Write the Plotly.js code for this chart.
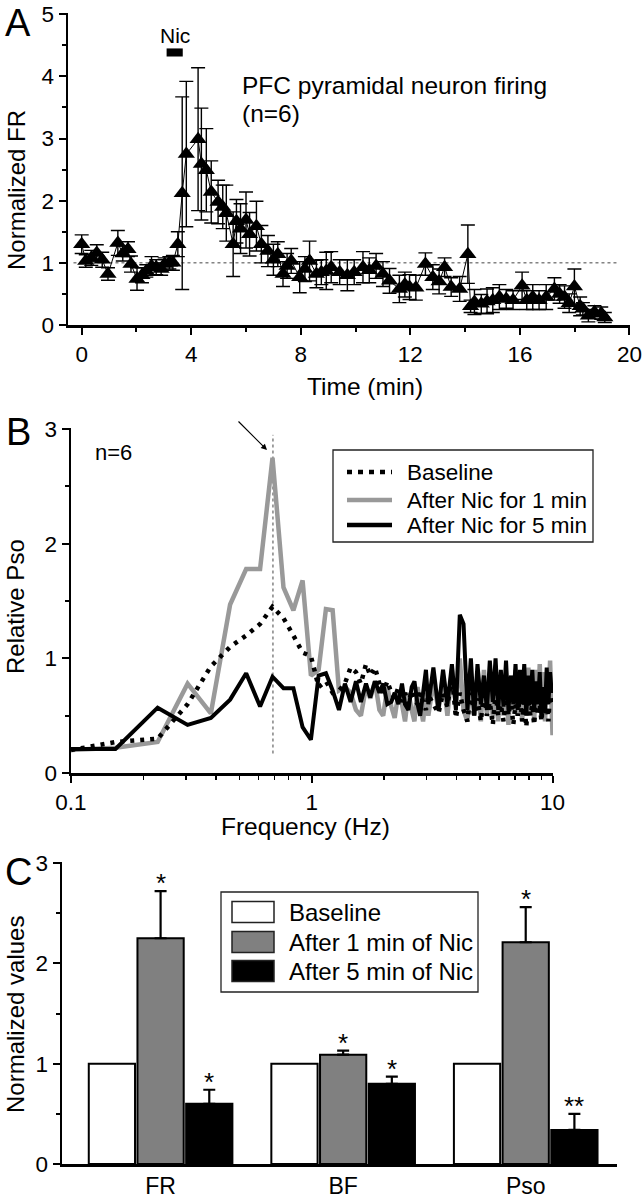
<!DOCTYPE html>
<html><head><meta charset="utf-8">
<script src="https://cdn.plot.ly/plotly-3.0.1.min.js"></script>
<style>html,body{margin:0;padding:0;background:#fff}#chart{width:644px;height:1200px}</style>
</head><body><div id="chart"></div>
<script>
// ---------- Panel A: normalized firing rate over time ----------
const timeMin = [0.0,0.15,0.35,0.55,0.75,0.96,1.32,1.5,1.69,1.8,
  2.02,2.2,2.36,2.55,2.72,2.9,3.03,3.2,3.33,3.51,
  3.67,3.82,4.25,4.37,4.55,4.73,4.98,5.15,5.28,5.53,
  5.65,5.8,6.0,6.13,6.38,6.56,6.8,7.0,7.16,7.35,
  7.5,7.65,7.96,8.15,8.32,8.57,8.75,8.93,9.11,9.42,
  9.7,9.95,10.27,10.5,10.75,11.0,11.24,11.6,11.8,11.97,
  12.2,12.55,12.82,13.05,13.25,13.49,13.8,14.1,14.2,14.34,
  14.59,14.8,15.01,15.25,15.5,15.75,16.08,16.25,16.47,16.7,
  16.96,17.26,17.45,17.63,17.8,17.99,18.2,18.3,18.5,18.72,
  18.97,19.1];
const normFR = [1.30,1.03,1.08,1.16,1.05,0.82,1.32,1.15,1.22,0.98,
  0.74,0.80,0.87,0.95,0.93,0.90,0.98,1.00,1.00,1.30,
  2.12,2.75,2.99,2.59,2.49,2.14,1.98,1.90,1.80,1.30,
  1.67,1.55,1.69,1.46,1.59,1.30,1.19,1.05,1.14,0.82,
  0.95,1.03,0.77,0.90,1.03,0.82,0.85,0.87,0.93,0.85,
  0.80,0.85,0.93,0.88,0.95,0.82,0.71,0.58,0.65,0.61,
  0.60,0.98,0.77,0.70,0.93,0.61,0.58,1.14,0.30,0.37,
  0.34,0.38,0.40,0.45,0.42,0.40,0.63,0.40,0.45,0.40,
  0.45,0.58,0.50,0.45,0.35,0.62,0.30,0.26,0.15,0.21,
  0.19,0.12];
const normFRErr = [0.15,0.10,0.12,0.13,0.12,0.10,0.20,0.12,0.12,0.13,
  0.18,0.12,0.10,0.15,0.12,0.10,0.10,0.10,0.12,0.20,
  1.55,1.17,1.15,0.90,0.67,0.50,0.35,0.35,0.45,0.52,
  0.35,0.40,0.45,0.35,0.40,0.30,0.25,0.25,0.20,0.20,
  0.20,0.20,0.25,0.20,0.32,0.22,0.20,0.30,0.25,0.20,
  0.25,0.20,0.25,0.20,0.20,0.20,0.20,0.22,0.20,0.20,
  0.20,0.18,0.20,0.20,0.15,0.15,0.20,0.47,0.10,0.20,
  0.15,0.20,0.20,0.20,0.15,0.15,0.22,0.15,0.20,0.15,
  0.20,0.18,0.15,0.18,0.15,0.28,0.15,0.10,0.10,0.10,
  0.10,0.08];
const nicStartMin = 3.1, nicEndMin = 3.69;

// ---------- Panel B: relative power spectrum ----------
const freqHz = [0.1,0.153,0.229,0.305,0.381,0.458,0.534,0.610,0.687,0.763,
  0.839,0.916,0.992,1.068,1.145,1.221,1.297,1.373,1.45,1.526,
  1.60,1.68,1.75,1.83,1.91,1.98,2.06,2.14,2.21,2.29,
  2.37,2.44,2.52,2.60,2.67,2.75,2.82,2.90,2.98,3.05,
  3.20,3.36,3.51,3.66,3.82,3.97,4.12,4.27,4.43,4.58,
  4.73,4.88,5.04,5.19,5.34,5.49,5.65,5.80,5.95,6.10,
  6.26,6.41,6.56,6.72,6.87,7.02,7.17,7.33,7.48,7.63,
  7.78,7.94,8.09,8.24,8.39,8.55,8.70,8.85,9.00,9.16,
  9.31,9.46,9.61,9.77,9.92,10.0];
const psoBaseline = [0.20,0.27,0.30,0.60,0.93,1.10,1.20,1.30,1.45,1.35,
  1.20,1.05,1.02,0.75,0.80,0.70,0.72,0.78,0.92,0.88,
  0.78,0.95,0.85,0.92,0.78,0.70,0.80,0.70,0.65,0.75,
  0.62,0.70,0.60,0.72,0.65,0.60,0.70,0.62,0.55,0.68,
  0.60,0.52,0.70,0.58,0.85,0.48,0.70,0.55,0.45,0.70,
  0.50,0.65,0.45,0.72,0.50,0.62,0.42,0.70,0.50,0.60,
  0.45,0.70,0.50,0.65,0.42,0.60,0.50,0.70,0.45,0.62,
  0.40,0.65,0.50,0.60,0.42,0.68,0.50,0.60,0.45,0.70,
  0.50,0.62,0.45,0.72,0.60,0.60];
const psoNic1 = [0.20,0.22,0.27,0.78,0.52,1.47,1.78,1.78,2.75,1.62,
  1.42,1.68,0.85,0.90,1.43,1.42,0.72,0.75,0.70,0.55,
  0.50,0.75,0.65,0.80,0.55,0.50,0.75,0.58,0.48,0.70,
  0.60,0.45,0.70,0.55,0.45,0.75,0.60,0.45,0.70,0.50,
  0.80,0.55,0.85,0.50,0.90,0.60,1.00,0.55,0.45,0.85,
  0.50,0.80,0.45,0.90,0.50,0.85,0.48,0.80,0.45,0.88,
  0.50,0.80,0.42,0.85,0.55,0.90,0.50,0.85,0.45,0.88,
  0.55,0.92,0.50,0.80,0.45,0.90,0.55,0.95,0.50,0.88,
  0.45,0.85,0.60,0.98,0.55,0.33];
const psoNic5 = [0.21,0.21,0.57,0.42,0.48,0.64,0.87,0.58,0.84,0.74,
  0.74,0.40,0.29,0.85,0.87,0.72,0.55,0.78,0.62,0.80,
  0.62,0.78,0.66,0.80,0.70,0.78,0.60,0.62,0.70,0.60,
  0.78,0.60,0.55,0.75,0.80,0.60,0.50,0.70,0.90,0.60,
  0.92,0.55,0.90,0.60,0.95,0.55,1.38,1.30,0.55,1.00,
  0.50,0.95,0.60,0.85,0.55,0.98,0.62,1.00,0.55,0.90,
  0.58,0.98,0.55,0.85,0.60,0.95,0.55,0.90,0.60,0.95,
  0.50,0.85,0.60,0.90,0.55,0.80,0.60,0.88,0.50,0.75,
  0.55,0.92,0.60,0.88,0.70,0.78];
const peakFreqHz = 0.69;
const peakLineRange = [0.17, 2.95];
const legendB = ["Baseline", "After Nic for 1 min", "After Nic for 5 min"];

// ---------- Panel C: normalized values ----------
const measures = ["FR", "BF", "Pso"];
const cBaseline = [1.0, 1.0, 1.0];
const cNic1 = [2.25, 1.09, 2.21];
const cNic1Err = [0.47, 0.04, 0.35];
const cNic5 = [0.60, 0.80, 0.34];
const cNic5Err = [0.14, 0.07, 0.16];
const cNic1Sig = ["*", "*", "*"];
const cNic5Sig = ["*", "*", "**"];
const legendC = ["Baseline", "After 1 min of Nic", "After 5 min of Nic"];

// ---------- helpers ----------
const W = 644, H = 1200;
const px = v => v / W;
const py = v => 1 - v / H;
const FONT = "Liberation Sans, Arial, Helvetica, sans-serif";

function ax(extra) {
  return Object.assign({
    showline: true, linecolor: "#000", linewidth: 2.5,
    ticks: "outside", ticklen: 7, tickwidth: 2, tickcolor: "#000",
    showgrid: false, zeroline: false, fixedrange: true,
    ticklabeloverflow: "allow",
    tickfont: {size: 22.5, color: "#000", family: FONT}
  }, extra);
}

const traces = [];
// Panel A
traces.push({
  x: timeMin, y: normFR, xaxis: "x", yaxis: "y", type: "scatter",
  mode: "lines+markers", cliponaxis: false,
  line: {color: "#000", width: 1},
  marker: {symbol: "triangle-up", size: 15, color: "#000"},
  error_y: {type: "data", array: normFRErr, visible: true, thickness: 1.4, width: 7, color: "#000"}
});
// Panel B
traces.push({
  x: [peakFreqHz, peakFreqHz], y: peakLineRange, xaxis: "x2", yaxis: "y2",
  type: "scatter", mode: "lines", line: {color: "#444", width: 1, dash: "dot"}
});
traces.push({
  x: freqHz, y: psoNic1, xaxis: "x2", yaxis: "y2", type: "scatter", mode: "lines",
  name: legendB[1], line: {color: "#999", width: 4.5, simplify: false}
});
traces.push({
  x: freqHz, y: psoBaseline, xaxis: "x2", yaxis: "y2", type: "scatter", mode: "lines",
  name: legendB[0], line: {color: "#000", width: 4.5, dash: "4px,6px", simplify: false}
});
traces.push({
  x: freqHz, y: psoNic5, xaxis: "x2", yaxis: "y2", type: "scatter", mode: "lines",
  name: legendB[2], line: {color: "#000", width: 4, simplify: false}
});
// Panel C
const barLine = {color: "#000", width: 2};
traces.push({x: measures, y: cBaseline, xaxis: "x3", yaxis: "y3", type: "bar", name: legendC[0],
  marker: {color: "#fff", line: barLine}});
traces.push({x: measures, y: cNic1, xaxis: "x3", yaxis: "y3", type: "bar", name: legendC[1],
  marker: {color: "#808080", line: barLine},
  error_y: {type: "data", symmetric: false, array: cNic1Err, arrayminus: [0,0,0], thickness: 2.2, width: 6, color: "#000"}});
traces.push({x: measures, y: cNic5, xaxis: "x3", yaxis: "y3", type: "bar", name: legendC[2],
  marker: {color: "#000", line: barLine},
  error_y: {type: "data", symmetric: false, array: cNic5Err, arrayminus: [0,0,0], thickness: 2.2, width: 6, color: "#000"}});

const annotations = [];
const shapes = [];
function txt(t, x, y, size, opts) {
  annotations.push(Object.assign({text: t, x: x, y: y, xref: "paper", yref: "paper",
    showarrow: false, font: {size: size, color: "#000", family: FONT},
    xanchor: "center", yanchor: "middle"}, opts || {}));
}
// panel letters
txt("A", px(18), py(23), 38);
txt("B", px(18), py(432), 38);
txt("C", px(18), py(872), 38);
// axis titles
txt("Normalized FR", px(16), py(190), 24, {textangle: -90});
txt("Time (min)", px(365), py(386), 24.5);
txt("Relative Pso", px(15), py(607), 24, {textangle: -90});
txt("Frequency (Hz)", px(305), py(826), 24.5);
txt("Normalized values", px(15), py(1015), 24, {textangle: -90});
// panel A texts
txt("PFC pyramidal neuron firing", px(240), py(86), 24.5, {xanchor: "left"});
txt("(n=6)", px(240), py(114), 24.5, {xanchor: "left"});
annotations.push({text: "Nic", xref: "x", yref: "y", x: (nicStartMin + nicEndMin) / 2, y: 4.66,
  showarrow: false, yanchor: "middle", font: {size: 21, color: "#000", family: FONT}});
shapes.push({type: "rect", xref: "x", yref: "y", x0: nicStartMin, x1: nicEndMin, y0: 4.32, y1: 4.45,
  fillcolor: "#000", line: {width: 0}});
shapes.push({type: "line", xref: "x", yref: "y", x0: -0.3, x1: 19.6, y0: 1, y1: 1,
  line: {color: "#444", width: 1, dash: "dot"}, layer: "below"});
// panel B texts
txt("n=6", px(113), py(452), 22);
annotations.push({text: "", xref: "paper", yref: "paper", x: px(267), y: py(450),
  showarrow: true, ax: -30, ay: -30, arrowhead: 2, arrowsize: 1, arrowwidth: 1.2, arrowcolor: "#000"});
// legend B (custom)
shapes.push({type: "rect", xref: "paper", yref: "paper", x0: px(333), x1: px(593), y0: py(542), y1: py(450),
  line: {color: "#222", width: 1.3}, fillcolor: "rgba(255,255,255,0)"});
const legBStyles = [{color: "#000", width: 4.5, dash: "5px,6px"}, {color: "#999", width: 4.5}, {color: "#000", width: 4.5}];
const legBRows = [472, 500, 525];
legendB.forEach((name, i) => {
  shapes.push({type: "line", xref: "paper", yref: "paper", x0: px(347), x1: px(392),
    y0: py(legBRows[i]), y1: py(legBRows[i]), line: legBStyles[i]});
  txt(name, px(405), py(legBRows[i]), 22.5, {xanchor: "left"});
});
// legend C (custom)
shapes.push({type: "rect", xref: "paper", yref: "paper", x0: px(221), x1: px(478), y0: py(992), y1: py(892),
  line: {color: "#222", width: 1.3}, fillcolor: "rgba(255,255,255,0)"});
const legCFills = ["#fff", "#808080", "#000"];
const legCRows = [912, 942, 971];
legendC.forEach((name, i) => {
  shapes.push({type: "rect", xref: "paper", yref: "paper", x0: px(232), x1: px(274),
    y0: py(legCRows[i] + 10.5), y1: py(legCRows[i] - 10.5), fillcolor: legCFills[i], line: {color: "#222", width: 1.5}});
  txt(name, px(287), py(legCRows[i]), 24, {xanchor: "left"});
});
// significance stars in C
const slot = 0.8 / 3;
measures.forEach((m, i) => {
  annotations.push({text: cNic1Sig[i], xref: "x3", yref: "y3", x: i, y: cNic1[i] + cNic1Err[i] + 0.08,
    showarrow: false, font: {size: 26, color: "#000", family: FONT}});
  annotations.push({text: cNic5Sig[i], xref: "x3", yref: "y3", x: i + slot, y: cNic5[i] + cNic5Err[i] + 0.08,
    showarrow: false, font: {size: 26, color: "#000", family: FONT}});
});

const logMinor = [0.2,0.3,0.4,0.5,0.6,0.7,0.8,0.9,2,3,4,5,6,7,8,9];
const layout = {
  width: W, height: H, margin: {l: 0, r: 0, t: 0, b: 0},
  paper_bgcolor: "#fff", plot_bgcolor: "#fff", showlegend: false,
  font: {family: FONT, color: "#000"},
  barmode: "group", bargap: 0.2, bargroupgap: 0.05,
  xaxis: ax({anchor: "y", domain: [px(68), px(630)], range: [-0.5, 20.02],
    tickvals: [0, 4, 8, 12, 16, 20],
    minor: {ticks: "outside", ticklen: 4, tickwidth: 2, tickcolor: "#000", dtick: 2, tick0: 0}}),
  yaxis: ax({anchor: "x", domain: [py(325), py(13)], range: [0, 5.02], tickvals: [0, 1, 2, 3, 4, 5],
    minor: {ticks: "outside", ticklen: 4, tickwidth: 2, tickcolor: "#000", dtick: 0.5, tick0: 0}}),
  xaxis2: ax({anchor: "y2", type: "log", domain: [px(71), px(553)], range: [-1, 1.002],
    tickvals: [0.1, 1, 10], ticktext: ["0.1", "1", "10"],
    minor: {ticks: "outside", ticklen: 4, tickwidth: 1.5, tickcolor: "#000", tickvals: logMinor}}),
  yaxis2: ax({anchor: "x2", domain: [py(773), py(428)], range: [0, 3.01], tickvals: [0, 1, 2, 3],
    minor: {ticks: "outside", ticklen: 4, tickwidth: 2, tickcolor: "#000", dtick: 0.5, tick0: 0}}),
  xaxis3: ax({anchor: "y3", type: "category", domain: [px(62), px(617)], range: [-0.54, 2.5],
    ticks: "", tickfont: {size: 23, color: "#000", family: FONT}}),
  yaxis3: ax({anchor: "x3", domain: [py(1164), py(862)], range: [0, 3.01], tickvals: [0, 1, 2, 3],
    minor: {ticks: "outside", ticklen: 4, tickwidth: 2, tickcolor: "#000", dtick: 0.5, tick0: 0}}),
  annotations: annotations,
  shapes: shapes
};

Plotly.newPlot("chart", traces, layout, {staticPlot: true, displayModeBar: false});
</script>
</body></html>
